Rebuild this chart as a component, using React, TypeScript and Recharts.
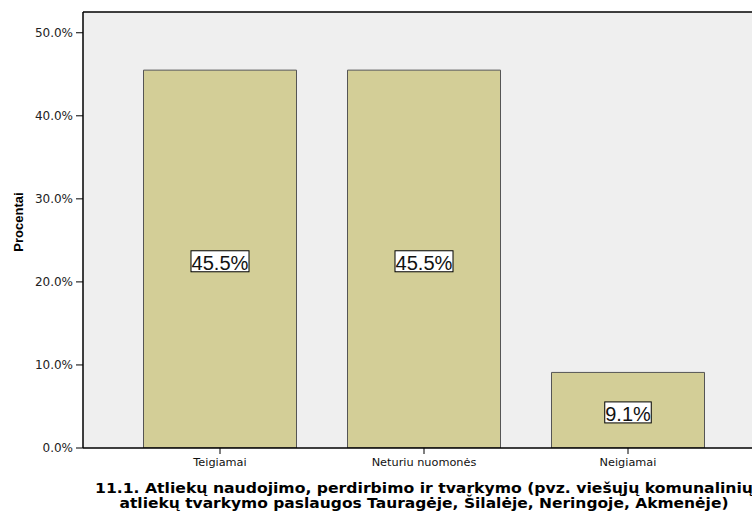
import React from "react";
import { BarChart, Bar, XAxis, YAxis, CartesianGrid, ReferenceLine, LabelList } from "recharts";

const categories = ["Teigiamai", "Neturiu nuomonės", "Neigiamai"];
const percents = [45.5, 45.5, 9.1];
const yTicks = [0, 10, 20, 30, 40, 50];
const titleLines = [
  "11.1. Atliekų naudojimo, perdirbimo ir tvarkymo (pvz. viešųjų komunalinių",
  "atliekų tvarkymo paslaugos Tauragėje, Šilalėje, Neringoje, Akmenėje)",
];
const yTitle = "Procentai";

const data = categories.map((c, i) => ({ name: c, value: percents[i] }));

const BarLabel = (props: any) => {
  const { x, y, width, height, value } = props;
  const txt = `${Number(value).toFixed(1)}%`;
  let w = 0;
  for (const ch of txt) {
    if (ch === ".") w += 5.5;
    else if (ch === "%") w += 18;
    else w += 11.5;
  }
  const h = 21;
  const cx = x + width / 2;
  const cy = y + height / 2 + 2.2;
  return (
    <g>
      <rect x={cx - w / 2} y={cy - h / 2} width={w} height={h} fill="#ffffff" stroke="#000000" strokeWidth={1} />
      <text
        x={cx - w / 2 + 0.5}
        y={cy + h / 2 - 2}
        fontFamily="'Liberation Sans', Arial, sans-serif"
        fontSize={20}
        fill="#111"
        textLength={w - 1}
        lengthAdjust="spacingAndGlyphs"
      >
        {txt}
      </text>
    </g>
  );
};

const TitleLabel = (props: any) => {
  const vb = props.viewBox || {};
  const cx = vb.x + vb.width / 2;
  return (
    <g>
      <text
        x={cx}
        y={493}
        textAnchor="middle"
        fontFamily="'DejaVu Sans', Verdana, sans-serif"
        fontWeight="bold"
        fontSize={13.5}
        fill="#000"
        textLength={658}
        lengthAdjust="spacingAndGlyphs"
      >
        {titleLines[0]}
      </text>
      <text
        x={cx}
        y={507.5}
        textAnchor="middle"
        fontFamily="'DejaVu Sans', Verdana, sans-serif"
        fontWeight="bold"
        fontSize={13.5}
        fill="#000"
        textLength={609}
        lengthAdjust="spacingAndGlyphs"
      >
        {titleLines[1]}
      </text>
    </g>
  );
};

const YTitle = () => (
  <text
    x={18}
    y={222}
    transform="rotate(-90, 18, 222)"
    textAnchor="middle"
    dominantBaseline="central"
    fontFamily="'Liberation Sans', Arial, sans-serif"
    fontWeight="bold"
    fontSize={13}
    fill="#000"
  >
    {yTitle}
  </text>
);

export default function App() {
  return (
    <div style={{ position: "absolute", left: 0, top: 0, width: 752, height: 512, overflow: "hidden", background: "#fff" }}>
      <BarChart
        width={790}
        height={512}
        data={data}
        margin={{ top: 12, right: 25, left: 23, bottom: 0 }}
        barCategoryGap="12.5%"
      >
        <CartesianGrid fill="#efefef" horizontal={false} vertical={false} />
        <XAxis
          dataKey="name"
          height={64}
          padding={{ left: 35, right: 35 }}
          axisLine={{ stroke: "#000", strokeWidth: 1.5 }}
          tickLine={{ stroke: "#000", strokeWidth: 1 }}
          tickSize={6}
          tickMargin={4}
          tick={{ fontSize: 11.3, fill: "#111", fontFamily: "'DejaVu Sans', Verdana, sans-serif" }}
          interval={0}
          label={<TitleLabel />}
        />
        <YAxis
          width={60}
          domain={[0, 52.5]}
          ticks={yTicks}
          allowDataOverflow
          tickFormatter={(v: number) => `${v.toFixed(1)}%`}
          axisLine={{ stroke: "#000", strokeWidth: 1.5 }}
          tickLine={{ stroke: "#000", strokeWidth: 1 }}
          tickSize={7}
          tickMargin={3}
          tick={{ fontSize: 12, fill: "#222", fontFamily: "'DejaVu Sans', Verdana, sans-serif" }}
          label={<YTitle />}
        />
        <ReferenceLine y={52.5} stroke="#000" strokeWidth={1.5} ifOverflow="extendDomain" />
        <Bar dataKey="value" fill="#d3ce97" stroke="#555" strokeWidth={1} isAnimationActive={false}>
          <LabelList dataKey="value" content={<BarLabel />} />
        </Bar>
      </BarChart>
    </div>
  );
}
